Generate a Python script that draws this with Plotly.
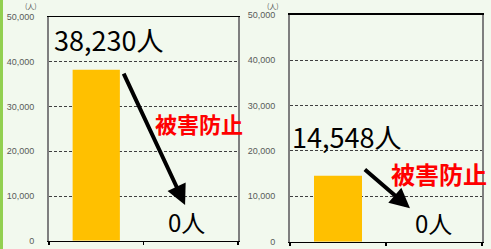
import plotly.graph_objects as go

categories = [0, 1]
values_left = [38230, 0]
values_right = [14548, 0]
y_ticks = [0, 10000, 20000, 30000, 40000, 50000]
y_tick_text = ["0", "10,000", "20,000", "30,000", "40,000", "50,000"]
label_left = "38,230人"
label_right = "14,548人"
zero_label = "0人"
prevent_label = "被害防止"
unit_label = "(人)"

BG = "#F2F9EE"
BAR = "#FFC000"
JP = "Noto Sans CJK JP"

fig = go.Figure()
fig.add_trace(go.Bar(x=categories, y=values_left, width=0.5, marker=dict(color=BAR, line=dict(width=0)),
                     xaxis="x", yaxis="y", showlegend=False, hoverinfo="skip"))
fig.add_trace(go.Bar(x=categories, y=values_right, width=0.5, marker=dict(color=BAR, line=dict(width=0)),
                     xaxis="x2", yaxis="y2", showlegend=False, hoverinfo="skip"))

W, H = 491, 249
def px(x):
    return x / W
def py(y):
    return (H - y) / H

xaxis_common = dict(range=[-0.5, 1.5], tickvals=[-0.5, 0.5, 1.5], ticks="outside", ticklen=3,
                    tickcolor="#000000", tickwidth=1.5, showticklabels=False, showgrid=False,
                    zeroline=False, showline=True, linecolor="#000000", linewidth=1.5, mirror=True,
                    fixedrange=True, automargin=False)
yaxis_common = dict(range=[0, 50000], tickvals=y_ticks, ticktext=y_tick_text, ticks="",
                    ticklabelstandoff=11,
                    tickfont=dict(family="Liberation Sans", size=9, color="#595959"),
                    showgrid=True, gridcolor="#404040", griddash="3px,2px", gridwidth=1,
                    zeroline=False, showline=True, linecolor="#7F7F7F", linewidth=2, mirror=True,
                    fixedrange=True, automargin=False)

fig.update_layout(
    width=W, height=H, margin=dict(l=0, r=0, t=0, b=0, autoexpand=False),
    paper_bgcolor=BG, plot_bgcolor=BG,
    xaxis=dict(domain=[px(49), px(238)], anchor="y", **xaxis_common),
    yaxis=dict(domain=[py(240.7), py(17.2)], anchor="x", **yaxis_common),
    xaxis2=dict(domain=[px(290), px(482)], anchor="y2", **xaxis_common),
    yaxis2=dict(domain=[py(241.7), py(14.7)], anchor="x2", **yaxis_common),
    shapes=[dict(type="rect", xref="paper", yref="paper", x0=0, x1=px(3), y0=0, y1=1,
                 fillcolor="#92D050", line=dict(width=0), layer="above")],
)

anns = []
# unit labels at the very top
anns.append(dict(xref="paper", yref="paper", x=px(31), y=1, text=unit_label, showarrow=False,
                 font=dict(family=JP, size=7, color="#595959"), xanchor="center", yanchor="top",
                 borderpad=0))
anns.append(dict(xref="paper", yref="paper", x=px(273), y=1, text=unit_label, showarrow=False,
                 font=dict(family=JP, size=7, color="#595959"), xanchor="center", yanchor="top",
                 borderpad=0))

# big value labels
anns.append(dict(xref="x", yref="y", x=-0.47, y=44900, text=label_left, showarrow=False,
                 font=dict(family=JP, size=27, color="#000000"), xanchor="left", yanchor="middle"))
anns.append(dict(xref="x2", yref="y2", x=-0.5, y=23100, text=label_right, showarrow=False,
                 font=dict(family=JP, size=27, color="#000000"), xanchor="left", yanchor="middle"))
# zero labels
anns.append(dict(xref="x", yref="y", x=0.96, y=4400, text=zero_label, showarrow=False,
                 font=dict(family=JP, size=24, color="#000000"), xanchor="center", yanchor="middle"))
anns.append(dict(xref="x2", yref="y2", x=0.99, y=4300, text=zero_label, showarrow=False,
                 font=dict(family=JP, size=24, color="#000000"), xanchor="center", yanchor="middle"))
# red labels
anns.append(dict(xref="x", yref="y", x=1.09, y=26300, text="<b>" + prevent_label + "</b>", showarrow=False,
                 font=dict(family=JP, size=22, color="#FF0000"), xanchor="center", yanchor="middle"))
anns.append(dict(xref="x2", yref="y2", x=1.05, y=15100, text="<b>" + prevent_label + "</b>", showarrow=False,
                 font=dict(family=JP, size=24, color="#FF0000"), xanchor="center", yanchor="middle"))
# arrows
anns.append(dict(xref="x", yref="y", axref="x", ayref="y", x=0.94, y=8000, ax=0.283, ay=37700,
                 text="", showarrow=True, arrowhead=2, arrowsize=1, arrowwidth=4, arrowcolor="#000000"))
anns.append(dict(xref="x2", yref="y2", axref="x2", ayref="y2", x=0.75, y=7360, ax=0.264, ay=16200,
                 text="", showarrow=True, arrowhead=2, arrowsize=1, arrowwidth=4, arrowcolor="#000000"))

fig.update_layout(annotations=anns)
fig.write_html("out.html", config={"displayModeBar": False, "staticPlot": True},
               post_script="document.body.style.margin='0';document.body.style.overflow='hidden';")
